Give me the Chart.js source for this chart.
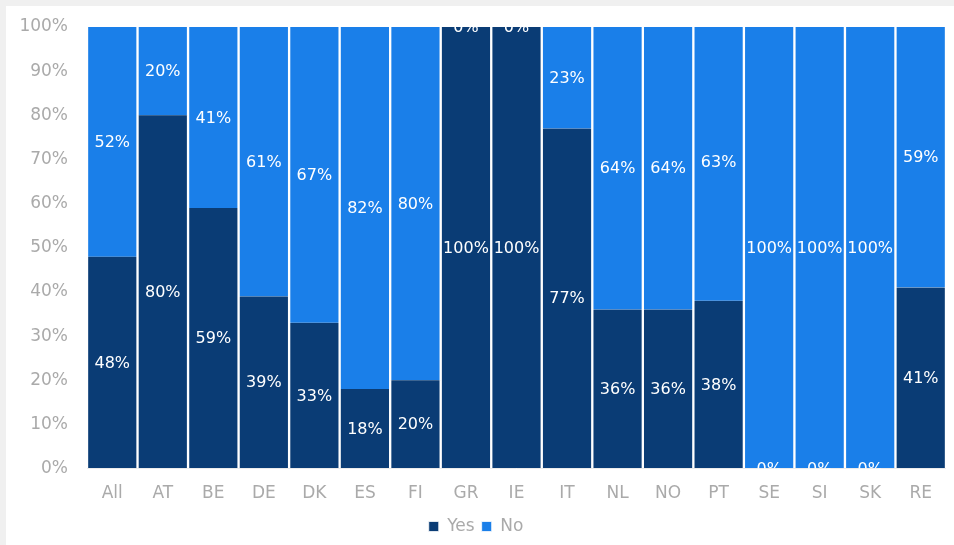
<!DOCTYPE html>
<html>
<head>
<meta charset="utf-8">
<script src="https://cdn.jsdelivr.net/npm/chart.js@4"></script>
<style>
  html, body { margin: 0; padding: 0; background: #f0f0f0; }
  #panel { position: absolute; left: 6px; top: 6px; width: 948px; height: 539px; background: #fff; }
</style>
</head>
<body>
<div id="panel"><canvas id="bar-chart"></canvas></div>
<script>
const countries = ['All', 'AT', 'BE', 'DE', 'DK', 'ES', 'FI', 'GR', 'IE', 'IT', 'NL', 'NO', 'PT', 'SE', 'SI', 'SK', 'RE'];
const yesValues = [48, 80, 59, 39, 33, 18, 20, 100, 100, 77, 36, 36, 38, 0, 0, 0, 41];
const noValues = [52, 20, 41, 61, 67, 82, 80, 0, 0, 23, 64, 64, 63, 100, 100, 100, 59];

const fontFamily = '"DejaVu Sans", Verdana, sans-serif';

// draws the white percent labels inside each segment, clipped to the plot
const segmentLabels = {
    id: 'segmentLabels',
    afterDatasetsDraw(chart) {
        const ctx = chart.ctx;
        const area = chart.chartArea;
        ctx.save();
        ctx.beginPath();
        ctx.rect(area.left, area.top, area.right - area.left, area.bottom - area.top);
        ctx.clip();
        ctx.fillStyle = '#ffffff';
        ctx.font = '16px ' + fontFamily;
        ctx.textAlign = 'center';
        ctx.textBaseline = 'middle';
        chart.data.datasets.forEach((ds, di) => {
            const meta = chart.getDatasetMeta(di);
            meta.data.forEach((bar, i) => {
                const yMid = (bar.y + bar.base) / 2;
                ctx.fillText(ds.data[i] + '%', bar.x, yMid + 1);
            });
        });
        ctx.restore();
    }
};

const ctx = document.getElementById('bar-chart').getContext('2d');
new Chart(ctx, {
    type: 'bar',
    data: {
        labels: countries,
        datasets: [{
            label: 'Yes',
            data: yesValues,
            backgroundColor: '#0a3c75',
            borderColor: '#ffffff',
            borderWidth: { left: 1.5, right: 1.5, top: 0, bottom: 0 },
            borderSkipped: false
        }, {
            label: 'No',
            data: noValues,
            backgroundColor: '#1a7fe9',
            borderColor: '#ffffff',
            borderWidth: { left: 1.5, right: 1.5, top: 0, bottom: 0 },
            borderSkipped: false
        }]
    },
    options: {
        responsive: true,
        maintainAspectRatio: false,
        animation: false,
        categoryPercentage: 1,
        barPercentage: 1,
        layout: { padding: { top: 21, right: 8, left: 0, bottom: 0 } },
        plugins: {
            tooltip: { enabled: false },
            legend: {
                position: 'bottom',
                labels: {
                    boxWidth: 10,
                    boxHeight: 10,
                    color: '#aaaaaa',
                    padding: 7,
                    font: { family: fontFamily, size: 17 }
                }
            }
        },
        scales: {
            x: {
                stacked: true,
                grid: { display: false },
                border: { display: false },
                ticks: {
                    color: '#aaaaaa',
                    padding: 7,
                    maxRotation: 0,
                    autoSkip: false,
                    font: { family: fontFamily, size: 17 }
                }
            },
            y: {
                stacked: true,
                min: 0,
                max: 100,
                afterFit(scale) { scale.width = 81; },
                grid: { color: '#ececec', drawTicks: true, tickLength: 16, tickColor: 'rgba(0,0,0,0)' },
                border: { display: false },
                ticks: {
                    stepSize: 10,
                    color: '#aaaaaa',
                    padding: 3,
                    font: { family: fontFamily, size: 17 },
                    callback: v => v + '%'
                }
            }
        }
    },
    plugins: [segmentLabels]
});
</script>
</body>
</html>
